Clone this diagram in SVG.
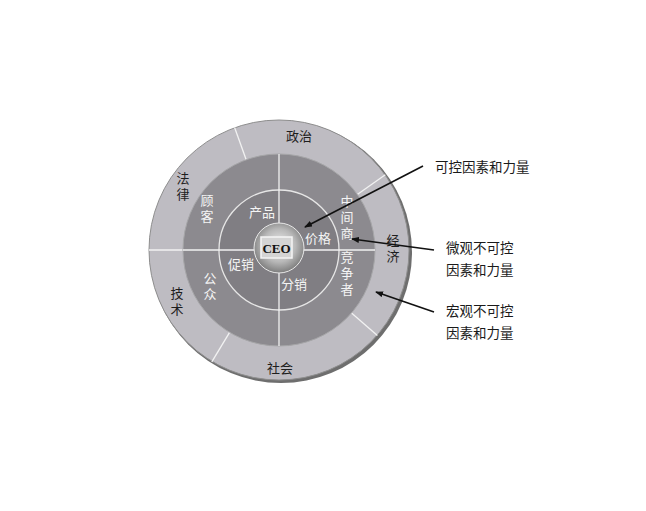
<svg xmlns="http://www.w3.org/2000/svg" width="646" height="511" viewBox="0 0 646 511">
<style>
.t{font-family:"Noto Sans CJK SC","Noto Sans",sans-serif;font-size:13px;text-anchor:middle;dominant-baseline:central}
.v{font-family:"Noto Sans CJK SC","Noto Sans",sans-serif;font-size:13px;text-anchor:middle;writing-mode:vertical-rl;letter-spacing:3px}
.dk{fill:#1e1e1e}
.wt{fill:#f4f4f4}
.lbl{font-family:"Noto Sans CJK SC","Noto Sans",sans-serif;font-size:13.5px;fill:#1a1a1a}
.div{stroke:#f2f2f2;stroke-width:1.3;fill:none}
.arr{stroke:#111;stroke-width:1.6;fill:none;marker-end:url(#ah)}
</style>
<defs>
<radialGradient id="ceo" cx="50%" cy="45%" r="55%">
<stop offset="0" stop-color="#efefef"/>
<stop offset="0.6" stop-color="#b8b8b8"/>
<stop offset="1" stop-color="#7c7c7c"/>
</radialGradient>
<marker id="ah" markerWidth="8" markerHeight="6" refX="7" refY="3" orient="auto" markerUnits="userSpaceOnUse">
<path d="M0,0 L8,3 L0,6 Z" fill="#111"/>
</marker>
</defs>
<rect width="646" height="511" fill="#ffffff"/>
<g id="outer-ring">
<circle cx="281" cy="252" r="131" fill="#6e6e6e"/>
<circle cx="279" cy="250" r="130" fill="#bebcc2" stroke="#8e8e8e" stroke-width="1"/>
<line class="div" x1="246.2" y1="159.8" x2="234.6" y2="127.5"/>
<line class="div" x1="357.3" y1="194.5" x2="385.3" y2="174.7"/>
<line class="div" x1="351.5" y1="313" x2="377.4" y2="335.5"/>
<line class="div" x1="229.6" y1="332.3" x2="211.8" y2="361.8"/>
<line class="div" x1="183" y1="250" x2="149" y2="250"/>
</g>
<g id="middle-ring">
<circle cx="279" cy="250" r="96" fill="#8c8a8f" stroke="#a6a6a8" stroke-width="1"/>
</g>
<g id="inner-circle">
<circle cx="279" cy="250" r="60" fill="#807e83" stroke="#e6e6e6" stroke-width="1.3"/>
</g>
<g id="cross">
<line class="div" x1="279" y1="154" x2="279" y2="346"/>
<line class="div" x1="183" y1="250" x2="375" y2="250"/>
</g>
<g id="ceo-node">
<circle cx="279" cy="248" r="25" fill="url(#ceo)" stroke="#e8e8e8" stroke-width="1"/>
<rect x="261" y="237" width="31" height="21" fill="#d4d4d4" stroke="#f5f5f5" stroke-width="1.5"/>
<text x="276.5" y="248" style="font-family:'Liberation Serif',serif;font-size:13px;font-weight:bold;text-anchor:middle;dominant-baseline:central;fill:#111">CEO</text>
</g>
<g id="outer-labels">
<text class="t dk" x="299" y="135">政治</text>
<text class="v dk" x="183" y="187.5">法律</text>
<text class="v dk" x="393" y="249.5">经济</text>
<text class="v dk" x="177" y="302.5">技术</text>
<text class="t dk" x="280" y="367">社会</text>
</g>
<g id="middle-labels">
<text class="v wt" x="207" y="209.5">顾客</text>
<text class="v wt" x="347" y="219">中间商</text>
<text class="v wt" x="347" y="275">竞争者</text>
<text class="v wt" x="210" y="287.5">公众</text>
</g>
<g id="inner-labels">
<text class="t wt" x="262" y="211">产品</text>
<text class="t wt" x="318" y="237">价格</text>
<text class="t wt" x="241" y="263">促销</text>
<text class="t wt" x="294" y="283">分销</text>
</g>
<g id="legend-labels">
<text class="lbl" x="435" y="172">可控因素和力量</text>
<text class="lbl" x="446" y="253">微观不可控</text>
<text class="lbl" x="446" y="275">因素和力量</text>
<text class="lbl" x="446" y="316">宏观不可控</text>
<text class="lbl" x="446" y="338">因素和力量</text>
</g>
<g id="connectors">
<line class="arr" x1="423" y1="166" x2="305" y2="227"/>
<line class="arr" x1="434" y1="250" x2="352" y2="239"/>
<line class="arr" x1="434" y1="312" x2="376" y2="292"/>
</g>
</svg>
